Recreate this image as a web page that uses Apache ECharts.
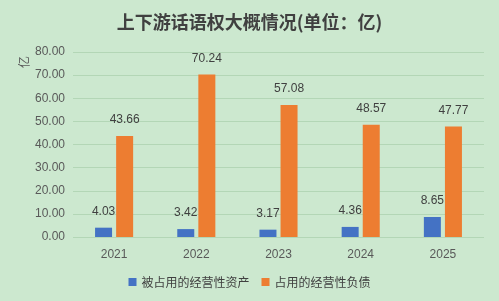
<!DOCTYPE html>
<html><head><meta charset="utf-8">
<script src="https://cdn.jsdelivr.net/npm/echarts@6/dist/echarts.min.js"></script>
<style>html,body{margin:0;padding:0;background:#cce8cf;}#c{width:499px;height:301px;}</style>
</head><body><div id="c"></div>
<script>
const categories = ['2021','2022','2023','2024','2025'];
const occupiedAssets = [4.03, 3.42, 3.17, 4.36, 8.65];
const occupyingLiabilities = [43.66, 70.24, 57.08, 48.57, 47.77];
const seriesNames = ['被占用的经营性资产', '占用的经营性负债'];
const unitName = '亿';
const chart = echarts.init(document.getElementById('c'));
const lbl = {show:true, position:'top', distance:10, color:'#404040', fontSize:12, fontFamily:'Liberation Sans, Arial', formatter:p=>p.value.toFixed(2)};
chart.setOption({
  backgroundColor:'#cce8cf',
  animation:false,
  title:{text:'上下游话语权大概情况(单位：亿)', left:'center', top:8,
    textStyle:{fontFamily:'Noto Sans CJK SC', fontWeight:'bold', fontSize:18, color:'#404040'}},
  grid:{left:73, right:15, top:52, bottom:64},
  legend:{bottom:8, itemWidth:8, itemHeight:8, itemGap:12, icon:'rect',
    textStyle:{fontFamily:'Noto Sans CJK SC', fontSize:12, color:'#404040'}, data:seriesNames},
  graphic:[{type:'text', left:18, top:56, rotation:Math.PI/2,
    style:{text:unitName, fill:'#595959', font:'12px "Noto Sans CJK SC"'}}],
  xAxis:{type:'category', data:categories,
    axisLine:{show:false}, axisTick:{show:false},
    axisLabel:{color:'#595959', fontSize:12, margin:12, fontFamily:'Liberation Sans, Arial'}},
  yAxis:{type:'value', min:0, max:80, interval:10,
    axisLabel:{color:'#595959', fontSize:12, margin:8, fontFamily:'Liberation Sans, Arial', formatter:v=>v.toFixed(2)},
    splitLine:{lineStyle:{color:'#b3d6b6', width:1}}},
  series:[
    {name:seriesNames[0], type:'bar', data:occupiedAssets, barWidth:17, barGap:'24%', itemStyle:{color:'#4472c4'}, label:lbl},
    {name:seriesNames[1], type:'bar', data:occupyingLiabilities, barWidth:17, itemStyle:{color:'#ed7d31'}, label:lbl}
  ]
});
</script></body></html>
